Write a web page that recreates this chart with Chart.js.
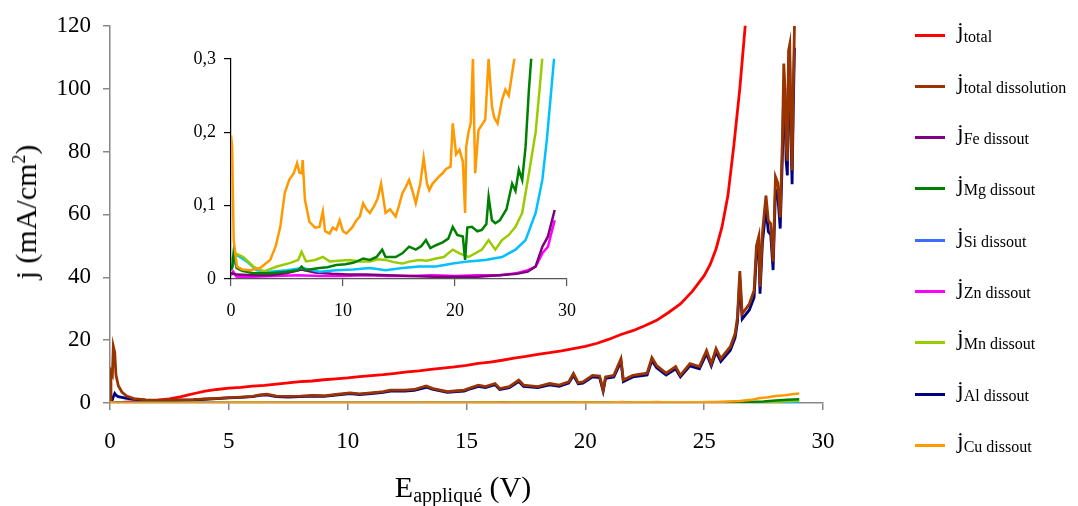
<!DOCTYPE html>
<html><head><meta charset="utf-8">
<script src="https://cdn.jsdelivr.net/npm/chart.js@4.4.1/dist/chart.umd.min.js"></script>
<style>
html,body{margin:0;padding:0;background:#fff;width:1078px;height:506px;overflow:hidden;font-family:'Liberation Serif','Times New Roman',serif;color:#000}
#main{position:absolute;left:0;top:0}
#inset{position:absolute;left:150px;top:40px}
.ytitle{position:absolute;left:26px;top:212px;transform:translate(-50%,-50%) rotate(-90deg);font-size:30px;white-space:nowrap}
.xtitle{position:absolute;left:463px;top:470px;transform:translateX(-50%);font-size:30px;white-space:nowrap;line-height:34px}
.xtitle sub{font-size:20px;vertical-align:-5px}
.leg{position:absolute;left:915px;width:160px;height:28px}
.leg .ln{position:absolute;left:0;top:18px;width:30px;height:3px}
.leg .tx{position:absolute;left:42px;top:0;font-size:24px;line-height:28px;white-space:nowrap}
.leg .tx span{font-size:16px;vertical-align:-4px}
</style></head>
<body>
<canvas id="main" width="1078" height="506"></canvas>
<canvas id="inset" width="440" height="290"></canvas>
<div class="ytitle">j (mA/cm<sup style="font-size:18px">2</sup>)</div>
<div class="xtitle">E<sub>appliqué</sub> (V)</div>
<div id="legend"></div>
<script>
// ---- data (E in V, j in mA/cm2) ----
const totalE = [0,0.5,1,1.5,2,2.5,3,3.3,3.6,4,4.5,5,5.5,6,6.5,7,7.5,8,8.5,9,9.5,10,10.5,11,11.5,12,12.5,13,13.5,14,14.5,15,15.5,16,16.5,17,17.5,18,18.5,19,19.5,20,20.5,21,21.5,22,22.5,23,23.5,24,24.5,25,25.25,25.5,25.75,26,26.25,26.5,26.75];
const totalJ = [0.1,0.2,0.4,0.6,0.9,1.3,2.0,2.6,3.1,3.8,4.3,4.7,5.0,5.4,5.6,6.0,6.4,6.8,7.0,7.4,7.7,8.0,8.4,8.7,9.0,9.4,9.9,10.2,10.7,11.1,11.5,12.0,12.6,13.0,13.6,14.3,14.8,15.5,16.0,16.6,17.3,18.0,19.0,20.3,21.8,23.0,24.6,26.3,28.8,31.5,35.5,40.5,44,49,56,66,82,100,122];

const dissE = [0,0.04,0.1,0.14,0.2,0.25,0.35,0.5,0.7,1,
  1.5,2,2.5,3,3.5,4,4.5,5,5.5,6,
  6.3,6.6,7,7.5,8,8.5,9,9.5,10.1,10.5,
  11.1,11.5,11.8,12.4,12.8,13.3,13.6,14.2,14.6,14.9,
  15.2,15.5,15.8,16.2,16.4,16.8,17.2,17.4,18.0,18.5,
  18.9,19.3,19.5,19.7,19.9,20.3,20.6,20.75,20.85,21.2,
  21.5,21.6,22.0,22.6,22.8,23.0,23.4,23.8,24.0,24.4,
  24.8,25.1,25.3,25.5,25.7,26.1,26.3,26.4,26.5,26.6,
  26.9,27.1,27.2,27.3,27.35,27.45,27.6,27.7,27.8,27.9,
  28.0,28.1,28.2,28.3,28.35,28.4,28.45,28.5,28.55,28.6,
  28.65,28.7,28.75,28.8];
const dissJ = [0,10,9,18,16,9,5.5,3.5,2.2,1.4,
  1.0,0.9,0.9,1.0,1.1,1.3,1.5,1.7,1.9,2.1,
  2.6,2.8,2.2,2.1,2.2,2.4,2.3,2.7,3.2,2.9,
  3.3,3.6,4.1,4.1,4.3,5.4,4.6,3.6,3.9,4.1,
  4.9,5.7,5.2,6.2,4.6,5.2,7.3,5.7,5.2,6.2,
  5.7,6.7,9.4,6.5,6.7,8.8,8.6,4.1,8.3,8.8,
  14.1,7.3,8.8,9.5,14.4,11.9,9.5,11.6,8.8,12.5,
  11.6,16.7,12.5,17.3,14.1,17.9,22,27.3,42,28.4,
  31.5,35.8,50,53,37,54,66,58,57,45,
  72,70,59,86,108,100,82,77,112,114,
  90,74,100,120];
const alJ = [0,0.5,1,2,3,2.5,2,1.8,1.5,1.2,
  0.9,0.8,0.8,0.9,1.0,1.2,1.4,1.6,1.8,2.0,
  2.4,2.6,2.0,1.9,2.0,2.2,2.1,2.5,3.0,2.7,
  3.1,3.4,3.8,3.8,4.0,5.0,4.3,3.4,3.6,3.8,
  4.6,5.3,4.9,5.8,4.3,4.9,6.8,5.3,4.9,5.8,
  5.3,6.3,8.8,6.1,6.3,8.3,8.1,3.8,7.8,8.3,
  13.2,6.8,8.3,8.9,13.5,11.2,8.9,10.9,8.3,11.8,
  10.9,15.7,11.8,16.3,13.2,16.8,20.7,25.7,39.5,26.7,
  29.6,33.6,47,49.8,34.8,50.8,62,54.5,53.6,42.3,
  67.7,65.8,55.5,80.8,101.5,94,77,72.4,105,107,
  84.6,69.6,94,113];

const cuE = [0,0.1,0.24,0.53,1.0,1.7,2.6,3.5,4.0,4.4,4.8,5.2,5.6,5.9,6.1,6.3,6.4,6.6,7.0,7.5,7.9,8.2,8.4,8.8,9.1,9.4,9.7,10.0,10.3,10.8,11.2,11.5,11.8,12.1,12.4,12.8,13.1,13.4,13.8,14.2,14.7,15.0,15.3,15.6,15.9,16.2,16.5,16.9,17.2,17.5,17.7,18.0,18.3,18.6,18.9,19.2,19.6,19.8,20.1,20.4,20.7,20.9,21.0,21.2,21.4,21.6,21.8,22.1,22.4,22.7,23.0,23.3,23.5,23.8,24.2,24.5,24.8,25.1,25.5,26.0,26.5,27.0,27.3,27.7,28.0,28.4,28.7,29.0];
const cuJ = [0.196,0.18,0.053,0.017,0.013,0.012,0.015,0.026,0.045,0.071,0.117,0.135,0.144,0.158,0.145,0.144,0.162,0.108,0.078,0.07,0.071,0.092,0.065,0.062,0.07,0.067,0.08,0.065,0.062,0.07,0.08,0.085,0.103,0.095,0.09,0.1,0.11,0.13,0.09,0.095,0.085,0.1,0.117,0.125,0.135,0.12,0.103,0.13,0.165,0.13,0.121,0.13,0.135,0.14,0.144,0.15,0.153,0.212,0.17,0.176,0.16,0.09,0.18,0.2,0.212,0.3,0.144,0.203,0.21,0.217,0.3,0.235,0.22,0.212,0.244,0.258,0.25,0.28,0.32,0.45,0.6,1.0,1.5,1.8,2.2,2.5,2.8,3.0];

const mgE = [0,0.1,0.24,0.5,1.0,2.0,3.5,5.0,6.0,6.3,6.6,7.9,8.6,9.4,10.2,10.9,11.4,11.8,12.4,13.0,13.5,13.8,14.7,15.3,15.9,16.5,17.0,17.4,17.8,18.3,18.9,19.4,19.8,20.2,20.7,20.9,21.1,21.5,22.0,22.4,22.8,23.0,23.3,23.6,24.0,24.2,24.6,25.1,25.4,25.7,26.0,26.3,26.6,26.9,27.5,28.0,28.5,29.0];
const mgJ = [0.012,0.015,0.037,0.015,0.011,0.008,0.008,0.01,0.012,0.017,0.012,0.015,0.016,0.019,0.02,0.022,0.025,0.028,0.026,0.03,0.04,0.03,0.03,0.035,0.044,0.04,0.045,0.053,0.042,0.046,0.05,0.055,0.071,0.06,0.058,0.026,0.07,0.071,0.065,0.067,0.075,0.112,0.08,0.076,0.08,0.085,0.095,0.13,0.12,0.149,0.135,0.18,0.258,0.32,0.5,0.8,1.0,1.2];

const mnE = [0,0.4,1.1,2.0,2.9,4.1,5.3,6.0,6.3,6.7,7.5,8.2,8.8,9.6,10.6,11.5,12.4,13.1,13.8,14.5,15.3,16.0,16.8,17.5,18.3,19.0,19.8,20.4,21.2,21.8,22.4,23.0,23.6,24.2,24.8,25.4,26.0,26.6,27.2,27.6,27.9,28.5,29.0];
const mnJ = [0.026,0.035,0.03,0.017,0.01,0.017,0.022,0.026,0.037,0.024,0.026,0.03,0.024,0.025,0.026,0.024,0.024,0.027,0.026,0.023,0.021,0.024,0.026,0.025,0.028,0.03,0.04,0.035,0.03,0.035,0.04,0.053,0.04,0.053,0.06,0.071,0.09,0.144,0.2,0.267,0.32,0.6,0.8];

const siE = [0,0.15,0.5,1.4,2.3,3.5,5.0,6.4,7.9,9.4,10.9,12.4,13.8,15.3,16.8,18.3,19.8,21.2,22.7,24.2,25.4,26.3,27.2,27.8,28.2,28.6,28.9,29.0];
const siJ = [0.015,0.017,0.033,0.024,0.012,0.01,0.012,0.015,0.01,0.012,0.013,0.015,0.012,0.015,0.017,0.017,0.021,0.024,0.026,0.03,0.04,0.053,0.09,0.135,0.19,0.258,0.31,0.4];

const znE = [0,0.2,0.5,2,4,6,8,10,12,14,16,18,20,22,24,25.5,26.5,27.2,27.8,28.3,28.9];
const znJ = [0.005,0.01,0.003,0.003,0.004,0.005,0.004,0.004,0.005,0.004,0.004,0.005,0.004,0.005,0.005,0.008,0.012,0.017,0.035,0.044,0.08];

const feE = [0,0.5,2,3.5,5,6.3,7.5,9,10.5,12,14,16,18,20,22,24,25.5,26.5,27.2,27.8,28.3,28.9];
const feJ = [0.008,0.006,0.005,0.005,0.008,0.013,0.009,0.007,0.006,0.006,0.005,0.004,0.003,0.003,0.003,0.005,0.007,0.01,0.017,0.044,0.058,0.094];

const mainYTicks = ['0','20','40','60','80','100','120'];
const mainXTicks = ['0','5','10','15','20','25','30'];
const insetYTicks = ['0','0,1','0,2','0,3'];
const insetXTicks = ['0','10','20','30'];

const legendNames = ['total','total dissolution','Fe dissout','Mg dissout','Si dissout','Zn dissout','Mn dissout','Al dissout','Cu dissout'];
const legendColors = ['#ff0000','#993300','#800080','#008000','#3b6cff','#ff00ff','#99cc00','#000080','#ff9900'];

// ---- build ----
const pts = (E,J) => E.map((e,i)=>({x:e,y:J[i]}));
const ds = (E,J,c,w) => ({data:pts(E,J),borderColor:c,backgroundColor:c,borderWidth:w,pointRadius:0,tension:0,fill:false});
const FONT = "'Liberation Serif','Times New Roman',serif";

new Chart(document.getElementById('main'),{
  type:'line',
  data:{datasets:[
    ds(cuE,cuJ,'#ff9900',2.5),
    ds(mgE,mgJ,'#008000',2.5),
    ds(mnE,mnJ,'#99cc00',2.5),
    ds(siE,siJ,'#00c0ff',2.5),
    ds(feE,feJ,'#800080',2.5),
    ds(znE,znJ,'#ff00ff',2.5),
    ds(dissE,dissJ,'#993300',2.8),
    ds(dissE,alJ,'#000080',2.8),
    ds(totalE,totalJ,'#ff0000',2.8)
  ]},
  options:{
    responsive:false,animation:false,devicePixelRatio:1,
    layout:{padding:{left:0,right:255,top:23,bottom:0}},
    plugins:{legend:{display:false},tooltip:{enabled:false}},
    scales:{
      x:{type:'linear',min:0,max:30,
        afterFit:s=>{s.height=103;},
        ticks:{stepSize:5,color:'#000',font:{family:FONT,size:23},padding:18,maxRotation:0,
          callback:(v,i)=>mainXTicks[i]},
        grid:{drawOnChartArea:false,drawTicks:true,tickLength:7,color:'#888',lineWidth:1.5},
        border:{color:'#888',width:1.5}},
      y:{type:'linear',min:0,max:120,
        afterFit:s=>{s.width=110;},
        ticks:{stepSize:20,color:'#000',font:{family:FONT,size:23},padding:12,
          callback:(v,i)=>mainYTicks[i]},
        grid:{drawOnChartArea:false,drawTicks:true,tickLength:7,color:'#888',lineWidth:1.5},
        border:{color:'#888',width:1.5}}
    }
  }
});

new Chart(document.getElementById('inset'),{
  type:'line',
  data:{datasets:[
    ds(cuE,cuJ,'#ff9900',2.5),
    ds(mgE,mgJ,'#008000',2.5),
    ds(mnE,mnJ,'#99cc00',2.5),
    ds(siE,siJ,'#00c0ff',2.5),
    ds(feE,feJ,'#800080',2.5),
    ds(znE,znJ,'#ff00ff',2.5)
  ]},
  options:{
    responsive:false,animation:false,devicePixelRatio:1,
    layout:{padding:{left:0,right:21,top:18,bottom:0}},
    plugins:{legend:{display:false},tooltip:{enabled:false}},
    scales:{
      x:{type:'linear',min:0,max:30,
        afterFit:s=>{s.height=51;},
        ticks:{stepSize:10,color:'#000',font:{family:FONT,size:18},padding:14,maxRotation:0,
          callback:(v,i)=>insetXTicks[i]},
        grid:{drawOnChartArea:false,drawTicks:true,tickLength:7,color:'#555',lineWidth:1.2},
        border:{color:'#555',width:1.2}},
      y:{type:'linear',min:0,max:0.3,
        afterFit:s=>{s.width=81;},
        ticks:{stepSize:0.1,color:'#000',font:{family:FONT,size:18},padding:8,
          callback:(v,i)=>insetYTicks[i]},
        grid:{drawOnChartArea:false,drawTicks:true,tickLength:7,color:'#000',lineWidth:1.2},
        border:{color:'#000',width:1.2}}
    }
  }
});

// ---- legend (HTML, with subscripts) ----
const legEl = document.getElementById('legend');
legendNames.forEach((n,i)=>{
  const y = 35 + i*51.3;
  const d = document.createElement('div');
  d.className='leg';
  d.style.top = (y-19.5)+'px';
  d.innerHTML = '<div class="ln" style="background:'+legendColors[i]+'"></div><div class="tx">j<span>'+n+'</span></div>';
  legEl.appendChild(d);
});
</script>
</body></html>
